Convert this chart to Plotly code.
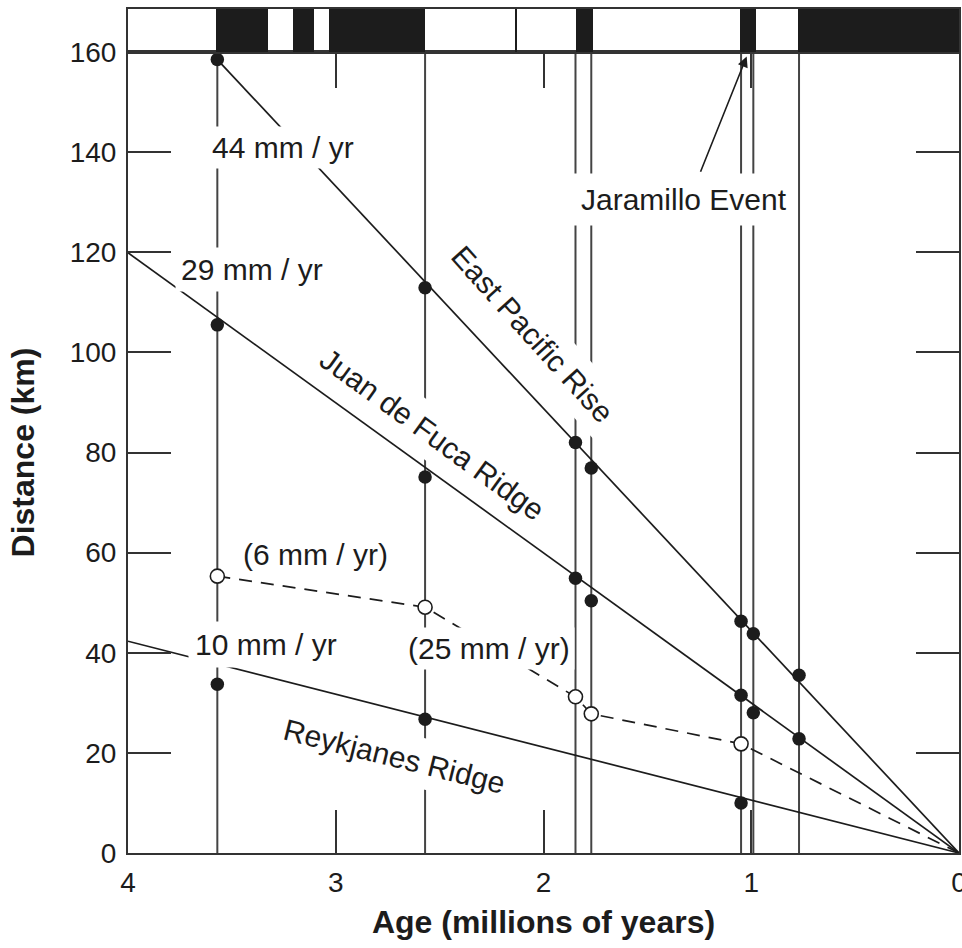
import plotly.graph_objects as go

# Ages (millions of years) of the anomaly boundaries used as measuring columns
anomaly_ages = [3.57, 2.57, 1.846, 1.77, 1.049, 0.99, 0.77]

# Distance from ridge axis (km) at each column
epr_km = [158.5, 112.9, 82.0, 76.9, 46.3, 43.8, 35.5]      # East Pacific Rise
jdf_km = [105.5, 75.1, 54.9, 50.4, 31.5, 28.0, 22.8]        # Juan de Fuca Ridge

# Open circles (tentative rates, dashed)
open_ages = [3.57, 2.57, 1.846, 1.77, 1.049, 0.0]
open_km = [55.3, 49.1, 31.2, 27.8, 21.8, 0.0]

# Reykjanes Ridge
rey_ages = [3.57, 2.57, 1.049]
rey_km = [33.7, 26.7, 10.0]

# Fitted spreading-rate lines (age, km)
epr_fit_age = [3.57, 0.0]
epr_fit_km = [158.5, 0.0]
jdf_fit_age = [4.0, 0.0]
jdf_fit_km = [119.9, 0.0]
rey_fit_age = [4.0, 0.0]
rey_fit_km = [42.3, 0.0]

# Normal-polarity intervals of the reversal time scale (Myr)
normal_start = [3.576, 3.207, 3.031, 2.138, 1.844, 1.054, 0.774]
normal_end = [3.325, 3.103, 2.570, 2.130, 1.764, 0.977, 0.0]

x_ticks = [4, 3, 2, 1, 0]
y_ticks = [0, 20, 40, 60, 80, 100, 120, 140, 160]

INK = "#1c1c1c"
FRAME = "#333333"
FONT = "Liberation Sans, Arial, Helvetica, sans-serif"

fig = go.Figure()

# Polarity bar
fig.add_trace(go.Bar(
    x=[(s + e) / 2 for s, e in zip(normal_start, normal_end)],
    width=[s - e for s, e in zip(normal_start, normal_end)],
    y=[1] * len(normal_start), base=0,
    marker=dict(color=INK, line=dict(width=0)),
    xaxis="x2", yaxis="y2", hoverinfo="skip",
))

# Vertical anomaly columns
vx, vy = [], []
for a in anomaly_ages:
    vx += [a, a, None]
    vy += [0, 160, None]
fig.add_trace(go.Scatter(x=vx, y=vy, mode="lines",
                         line=dict(color="#444444", width=2),
                         xaxis="x", yaxis="y", hoverinfo="skip"))

# Fitted ridge lines
for ax_, ay_ in [(epr_fit_age, epr_fit_km), (jdf_fit_age, jdf_fit_km), (rey_fit_age, rey_fit_km)]:
    fig.add_trace(go.Scatter(x=ax_, y=ay_, mode="lines",
                             line=dict(color=INK, width=1.7),
                             xaxis="x3", yaxis="y", hoverinfo="skip"))

# Dashed line through open circles
fig.add_trace(go.Scatter(x=open_ages, y=open_km, mode="lines",
                         line=dict(color=INK, width=1.7, dash="13px,9px"),
                         xaxis="x3", yaxis="y", hoverinfo="skip"))

# Solid data points
for ages, kms in [(anomaly_ages, epr_km), (anomaly_ages, jdf_km), (rey_ages, rey_km)]:
    fig.add_trace(go.Scatter(x=ages, y=kms, mode="markers",
                             marker=dict(color=INK, size=13.5, line=dict(width=0)),
                             xaxis="x3", yaxis="y", cliponaxis=False, hoverinfo="skip"))

# Open data points
fig.add_trace(go.Scatter(x=open_ages[:-1], y=open_km[:-1], mode="markers",
                         marker=dict(color="white", size=14, line=dict(color=INK, width=1.6)),
                         xaxis="x3", yaxis="y", hoverinfo="skip"))

label_font = dict(family=FONT, size=30, color=INK)


def label(text, x, y, angle=0, pad=5):
    fig.add_annotation(x=x, y=y, xref="x", yref="y", text=text, showarrow=False,
                       textangle=angle, font=label_font, bgcolor="white",
                       borderpad=pad, xanchor="center", yanchor="middle")


# Arrow to the Jaramillo event
fig.add_annotation(x=1.022, y=159.1, ax=1.247, ay=135.8, xref="x", yref="y",
                   axref="x", ayref="y", text="", showarrow=True,
                   arrowhead=2, arrowsize=1.3, arrowwidth=1.6, arrowcolor=INK)

label("44 mm / yr", 3.254, 140.9, pad=4)
label("29 mm / yr", 3.405, 116.5, pad=5)
label("Jaramillo Event", 1.326, 130.5, pad=9)
label("East Pacific Rise", 2.051, 103.6, angle=48, pad=8)
label("Juan de Fuca Ridge", 2.534, 83.6, angle=36, pad=8)
label("(6 mm / yr)", 3.096, 59.6, pad=3)
label("10 mm / yr", 3.337, 41.6, pad=6)
label("(25 mm / yr)", 2.262, 40.95, pad=4)
label("Reykjanes Ridge", 2.715, 19.3, angle=14, pad=8)

axis_common = dict(showgrid=False, zeroline=False, linecolor=FRAME, linewidth=2,
                   tickcolor=FRAME, tickwidth=2, automargin=False)

fig.update_layout(
    width=962, height=948,
    margin=dict(l=128, r=3, t=9, b=95),
    paper_bgcolor="white", plot_bgcolor="white",
    showlegend=False, bargap=0,
    font=dict(family=FONT, color=INK),
    xaxis=dict(domain=[0, 1], range=[4, 0], anchor="y", tickvals=x_ticks,
               ticks="inside", ticklen=43, showline=True,
               tickfont=dict(size=28), ticklabelstandoff=3, ticklabeloverflow="allow",
               title=dict(text="<b>Age (millions of years)</b>", font=dict(size=32), standoff=14),
               **axis_common),
    xaxis3=dict(range=[4, 0], anchor="y", overlaying="x", side="top",
                tickvals=[3, 2, 1], ticks="inside", ticklen=36, showline=True,
                showticklabels=False, **axis_common),
    yaxis=dict(domain=[0, 0.949], range=[0, 160], anchor="x", tickvals=y_ticks,
               ticks="inside", ticklen=43, showline=True, mirror="ticks",
               tickfont=dict(size=28), ticklabelstandoff=4,
               title=dict(text="<b>Distance (km)</b>", font=dict(size=32), standoff=25),
               **axis_common),
    xaxis2=dict(range=[4, 0], anchor="y2", showticklabels=False, ticks="",
                showline=True, mirror=True, **axis_common),
    yaxis2=dict(domain=[0.949, 1], range=[0, 1], anchor="x2", showticklabels=False,
                ticks="", showline=True, mirror=True, **axis_common),
)

fig.write_html("out.html")
